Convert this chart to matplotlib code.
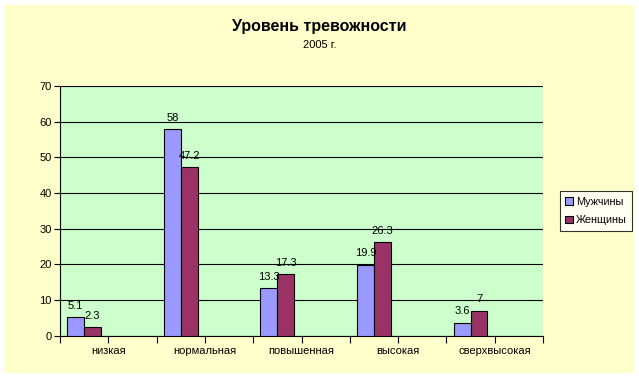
import numpy as np
import matplotlib
matplotlib.use('Agg')
import matplotlib.pyplot as plt
from matplotlib.patches import Rectangle

categories = ['низкая', 'нормальная', 'повышенная', 'высокая', 'сверхвысокая']
men = [5.1, 58, 13.3, 19.9, 3.6]
women = [2.3, 47.2, 17.3, 26.3, 7]
series_names = ['Мужчины', 'Женщины']

plt.rcParams['font.family'] = ['Liberation Sans', 'DejaVu Sans']

fig = plt.figure(figsize=(6.39, 3.78), dpi=100)
fig.patch.set_facecolor('white')
# yellow chart area with white margin
fig.patches.append(Rectangle((4 / 639, 1 - 373 / 378), 630 / 639, 368 / 378,
                             transform=fig.transFigure, facecolor='#FFFFCC',
                             edgecolor='none', zorder=-5))

ax = fig.add_axes([60 / 639, 1 - 335.5 / 378, 483 / 639, 249.5 / 378])
ax.set_zorder(2)
ax.set_facecolor('#CCFFCC')

# each category takes two slots on the axis, bars sit in the first one
x = np.arange(len(categories)) * 2
w = 0.35
b1 = ax.bar(x + 0.5 - w / 2, men, w, color='#9999FF', edgecolor='black', linewidth=0.8,
            label=series_names[0], zorder=3)
b2 = ax.bar(x + 0.5 + w / 2, women, w, color='#993366', edgecolor='black', linewidth=0.8,
            label=series_names[1], zorder=3)

for bars, vals in [(b1, men), (b2, women)]:
    for rect, v in zip(bars, vals):
        ax.annotate(f'{v:g}', (rect.get_x() + rect.get_width() / 2, rect.get_height()),
                    xytext=(0, 4.5), textcoords='offset points', ha='center', va='bottom',
                    fontsize=8, zorder=4)

ax.set_xlim(0, 10)
ax.set_ylim(0, 70)
ax.set_yticks(range(0, 71, 10))
ax.yaxis.grid(True, color='black', linewidth=0.8, zorder=1)
ax.set_axisbelow(True)
ax.set_xticks(range(0, 11))
ax.set_xticklabels([])
ax.tick_params(axis='x', length=5, width=0.8, direction='out')
ax.tick_params(axis='y', length=4, width=0.8, labelsize=8, pad=2)

# category names between the two slots of each category
for xi, name in zip(x + 1, categories):
    ax.annotate(name, (xi, 0), xycoords=ax.get_xaxis_transform(),
                xytext=(0, -11), textcoords='offset points',
                ha='center', va='center', fontsize=8)

ax.spines['top'].set_visible(False)
ax.spines['right'].set_visible(False)
ax.spines['left'].set_linewidth(0.8)
ax.spines['bottom'].set_linewidth(0.8)

fig.text(0.5, 1 - 26 / 378, 'Уровень тревожности', ha='center', va='center',
         fontsize=11.5, fontweight='bold')
fig.text(0.5, 1 - 45 / 378, '2005 г.', ha='center', va='center', fontsize=8)

leg = fig.legend(handles=[b1, b2], loc='center left',
                 bbox_to_anchor=(560 / 639, 1 - 211 / 378), fontsize=7.8,
                 frameon=True, fancybox=False, edgecolor='black', facecolor='white',
                 handlelength=0.7, handleheight=0.7, handletextpad=0.25,
                 borderpad=0.5, borderaxespad=0, labelspacing=0.8)
leg.get_frame().set_linewidth(0.8)

fig.savefig('out.png', dpi=100, facecolor=fig.get_facecolor())
